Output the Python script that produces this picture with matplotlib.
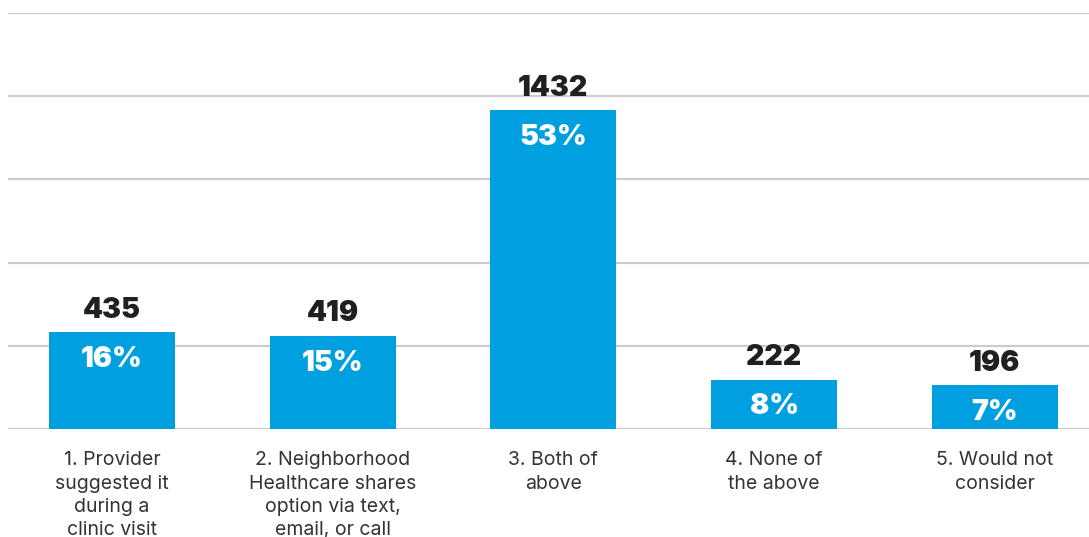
import matplotlib
matplotlib.use("Agg")
import numpy as np
from matplotlib import pyplot as plt

categories = [
    "1. Provider\nsuggested it\nduring a\nclinic visit",
    "2. Neighborhood\nHealthcare shares\noption via text,\nemail, or call",
    "3. Both of\nabove",
    "4. None of\nthe above",
    "5. Would not\nconsider",
]
counts = [435, 419, 1432, 222, 196]
percents = ["16%", "15%", "53%", "8%", "7%"]

BLUE = "#009fdf"
GRID = "#cccccc"
DARK = "#231f20"

plt.rcParams["font.family"] = ["Inter", "DejaVu Sans"]

fig = plt.figure(figsize=(10.89, 5.37), dpi=100)
ax = fig.add_axes([8 / 1089, 108 / 537, 1 - 8 / 1089, 416 / 537])

x = np.arange(len(counts))
bars = ax.bar(x, counts, width=0.57, color=BLUE, zorder=2)

# five equal bands up to the top gridline
ymax = 1867
ax.set_ylim(0, ymax)
ax.set_xlim(-0.471, 4.427)
ax.set_yticks(np.linspace(0, ymax, 6))
ax.yaxis.grid(True, color=GRID, linewidth=1.6, zorder=0)
ax.set_axisbelow(True)
ax.tick_params(axis="y", left=False, labelleft=False)

ax.set_xticks(x)
ax.set_xticklabels(categories, fontsize=14, color="#333333", linespacing=1.38,
                   va="top")
ax.tick_params(axis="x", length=0, pad=16)

for sp in ax.spines.values():
    sp.set_visible(False)

for rect, n, pct in zip(bars, counts, percents):
    cx = rect.get_x() + rect.get_width() / 2
    ax.annotate(str(n), (cx, n), xytext=(0, 6), textcoords="offset points",
                ha="center", va="bottom", fontsize=20.5, fontweight="black",
                color=DARK, zorder=3)
    ax.annotate(pct, (cx, n), xytext=(0, -10), textcoords="offset points",
                ha="center", va="top", fontsize=20.5, fontweight="black",
                color="white", zorder=3)

fig.savefig("out.png", dpi=100)
